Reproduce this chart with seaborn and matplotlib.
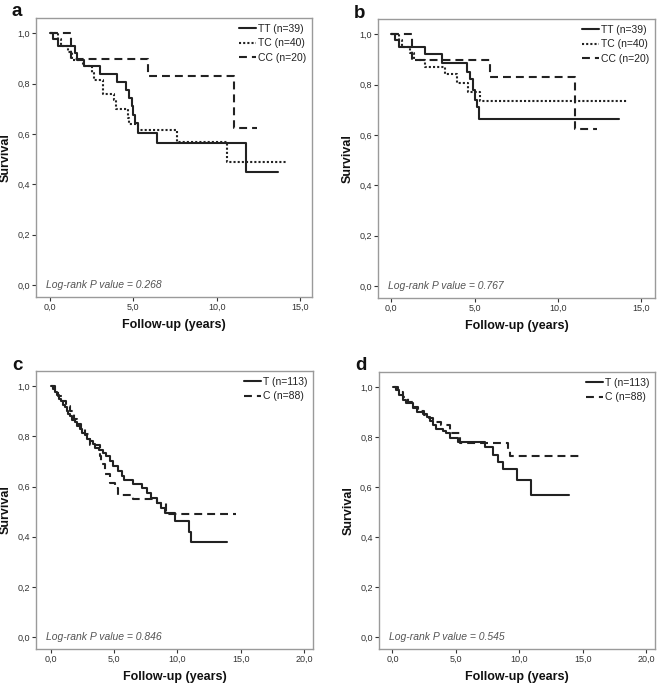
import matplotlib
matplotlib.use("Agg")
import matplotlib.pyplot as plt
import seaborn as sns
import pandas as pd

# ---------------- data ----------------
# Panel a
a_TT_time = [0.0, 0.2, 0.45, 1.5, 1.6, 2.05, 3.0, 4.0, 4.55, 4.75, 4.9, 5.0, 5.1, 5.25, 6.4, 11.75, 13.7]
a_TT_surv = [1.0, 0.975, 0.947, 0.922, 0.895, 0.868, 0.838, 0.808, 0.775, 0.742, 0.709, 0.676, 0.642, 0.603, 0.563, 0.450, 0.450]
a_TC_time = [0.0, 0.45, 0.65, 1.1, 1.3, 2.0, 2.5, 2.65, 3.2, 3.85, 3.95, 4.7, 4.75, 5.3, 7.6, 10.6, 14.2]
a_TC_surv = [1.0, 0.975, 0.95, 0.925, 0.895, 0.868, 0.842, 0.815, 0.760, 0.735, 0.700, 0.665, 0.640, 0.615, 0.568, 0.487, 0.487]
a_CC_time = [0.0, 1.25, 5.85, 11.05, 12.4]
a_CC_surv = [1.0, 0.897, 0.828, 0.623, 0.623]

# Panel b
b_TT_time = [0.0, 0.2, 0.45, 2.05, 3.05, 4.55, 4.75, 4.9, 5.0, 5.15, 5.25, 13.7]
b_TT_surv = [1.0, 0.975, 0.95, 0.92, 0.887, 0.851, 0.82, 0.78, 0.74, 0.71, 0.662, 0.662]
b_TC_time = [0.0, 0.45, 0.65, 1.1, 1.35, 2.0, 3.2, 3.95, 4.6, 5.3, 14.2]
b_TC_surv = [1.0, 0.975, 0.95, 0.925, 0.897, 0.871, 0.84, 0.805, 0.772, 0.736, 0.736]
b_CC_time = [0.0, 1.25, 5.9, 11.05, 12.35]
b_CC_surv = [1.0, 0.898, 0.829, 0.622, 0.622]

# Panel c
c_T_time = [0.05, 0.2, 0.35, 0.5, 0.65, 0.8, 0.95, 1.1, 1.25, 1.4, 1.55, 1.7, 1.9, 2.1, 2.3,
            2.5, 2.7, 2.9, 3.1, 3.3, 3.5, 3.8, 4.1, 4.4, 4.7, 4.95, 5.3, 5.6, 5.8, 6.5, 7.2,
            7.6, 7.9, 8.35, 8.7, 9.0, 9.8, 10.9, 11.1, 13.9]
c_T_surv = [1.0, 0.99, 0.975, 0.965, 0.95, 0.94, 0.925, 0.915, 0.9, 0.89, 0.88, 0.865, 0.855, 0.84, 0.83,
            0.815, 0.805, 0.79, 0.78, 0.77, 0.755, 0.745, 0.735, 0.72, 0.70, 0.68, 0.66, 0.64, 0.625, 0.61, 0.595,
            0.575, 0.555, 0.535, 0.515, 0.495, 0.463, 0.418, 0.378, 0.378]
c_C_time = [0.05, 0.3, 0.6, 0.9, 1.2, 1.5, 1.8, 2.1, 2.4, 2.7, 3.0, 3.1, 3.9, 4.0, 4.3, 4.7, 5.1, 5.3, 6.5, 8.35, 9.1, 14.6]
c_C_surv = [1.0, 0.98, 0.96, 0.94, 0.92, 0.90, 0.87, 0.85, 0.83, 0.81, 0.79, 0.765, 0.72, 0.69, 0.65, 0.615, 0.595, 0.567, 0.55, 0.535, 0.49, 0.49]

# Panel d
d_T_time = [0.05, 0.3, 0.55, 0.85, 1.1, 1.6, 1.9, 2.4, 2.7, 2.95, 3.2, 3.47, 4.0, 4.25, 4.5, 5.2, 7.3, 7.95, 8.35, 8.75, 9.8, 10.95, 13.95]
d_T_surv = [1.0, 0.99, 0.97, 0.95, 0.936, 0.916, 0.90, 0.894, 0.88, 0.863, 0.85, 0.832, 0.823, 0.817, 0.798, 0.78, 0.76, 0.73, 0.70, 0.672, 0.628, 0.568, 0.568]
d_C_time = [0.1, 0.4, 0.8, 1.2, 1.6, 2.0, 2.5, 2.9, 3.2, 3.8, 4.5, 5.3, 9.1, 9.25, 14.9]
d_C_surv = [1.0, 0.98, 0.96, 0.94, 0.92, 0.905, 0.89, 0.875, 0.862, 0.849, 0.816, 0.778, 0.752, 0.725, 0.725]

panel_letters = ["a", "b", "c", "d"]
pvalues = ["0.268", "0.767", "0.846", "0.545"]
labels_3 = ["TT (n=39)", "TC (n=40)", "CC (n=20)"]
labels_2 = ["T (n=113)", "C (n=88)"]
ytick_vals = [0.0, 0.2, 0.4, 0.6, 0.8, 1.0]
ytick_labels = ["0,0", "0,2", "0,4", "0,6", "0,8", "1,0"]
xtick_vals_ab = [0, 5, 10, 15]
xtick_labels_ab = ["0,0", "5,0", "10,0", "15,0"]
xtick_vals_cd = [0, 5, 10, 15, 20]
xtick_labels_cd = ["0,0", "5,0", "10,0", "15,0", "20,0"]

# ---------------- figure ----------------
sns.set_theme(style="white")
plt.rcParams["font.family"] = ["Liberation Sans", "DejaVu Sans"]

W, H = 660, 686
fig = plt.figure(figsize=(W / 100, H / 100), dpi=100)

def px_axes(l, t, r, b):
    return fig.add_axes([l / W, 1 - b / H, (r - l) / W, (b - t) / H])

boxes = [(36, 18, 312, 297), (378, 19, 655, 298), (36, 371, 313, 649), (379, 372, 655, 649)]
xlims = [(-0.84, 15.72), (-0.8, 15.84), (-1.16, 20.7), (-1.06, 20.7)]

line_color = "#222222"
styles = {
    "solid": dict(linestyle="-", linewidth=1.5),
    "dotted": dict(linestyle=(0, (1, 1)), linewidth=1.5),
    "dashed": dict(linestyle=(0, (3.8, 2.4)), linewidth=1.5),
}

series = [
    [(a_TT_time, a_TT_surv, labels_3[0], "solid"),
     (a_TC_time, a_TC_surv, labels_3[1], "dotted"),
     (a_CC_time, a_CC_surv, labels_3[2], "dashed")],
    [(b_TT_time, b_TT_surv, labels_3[0], "solid"),
     (b_TC_time, b_TC_surv, labels_3[1], "dotted"),
     (b_CC_time, b_CC_surv, labels_3[2], "dashed")],
    [(c_T_time, c_T_surv, labels_2[0], "solid"),
     (c_C_time, c_C_surv, labels_2[1], "dashed")],
    [(d_T_time, d_T_surv, labels_2[0], "solid"),
     (d_C_time, d_C_surv, labels_2[1], "dashed")],
]

for i in range(4):
    ax = px_axes(*boxes[i])
    for t, s, lab, st in series[i]:
        df = pd.DataFrame({"t": t, "s": s})
        sns.lineplot(data=df, x="t", y="s", ax=ax, drawstyle="steps-post",
                     estimator=None, sort=False, color=line_color, label=lab,
                     legend=False, **styles[st])
    ax.set_xlim(*xlims[i])
    ax.set_ylim(-0.047, 1.06)
    if i < 2:
        ax.set_xticks(xtick_vals_ab)
        ax.set_xticklabels(xtick_labels_ab)
    else:
        ax.set_xticks(xtick_vals_cd)
        ax.set_xticklabels(xtick_labels_cd)
    ax.set_yticks(ytick_vals)
    ax.set_yticklabels(ytick_labels)
    ax.tick_params(axis="both", which="both", direction="out", length=3, width=0.8,
                   colors="#333333", labelsize=6.5, pad=1.5, bottom=True, left=True)
    for sp in ax.spines.values():
        sp.set_color("#9a9a9a")
        sp.set_linewidth(1.0)
    l, t, r, b = boxes[i]
    ax.set_xlabel("Follow-up (years)", fontsize=9, fontweight="bold", color="#111111", labelpad=5)
    ax.set_ylabel("Survival", fontsize=9, fontweight="bold", color="#111111")
    ax.yaxis.set_label_coords(-24 / (r - l), 0.5)
    ax.text(0.035, 0.043, "Log-rank P value = " + pvalues[i], transform=ax.transAxes,
            fontsize=7.5, style="italic", color="#555555", ha="left", va="center")
    leg = ax.legend(loc="upper right", frameon=False, fontsize=7.5, handlelength=1.6,
                    handletextpad=0.2, labelspacing=0.45, borderaxespad=0.15)
    for txt in leg.get_texts():
        txt.set_color("#222222")
    fig.text((l - 24) / W, 1 - (t - 6) / H, panel_letters[i], fontsize=13.5, fontweight="bold",
             ha="left", va="center", color="#111111")

fig.savefig("out.png", dpi=100)
